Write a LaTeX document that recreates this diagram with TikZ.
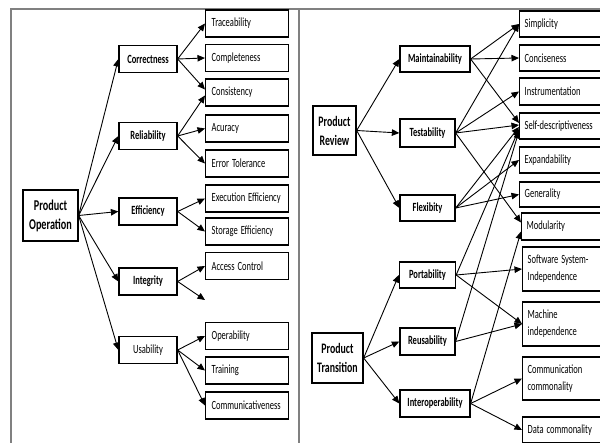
\documentclass[tikz,border=0pt]{standalone}
\usepackage{fontspec}
\setmainfont[FakeStretch=0.68]{Carlito}
\usetikzlibrary{arrows.meta}
\newcommand{\wsp}{\hspace{3pt}}
\begin{document}
\begin{tikzpicture}[x=1pt,y=-1pt,
  box/.style={draw=black, line width=1.3pt, inner sep=0pt, align=center, minimum width=58pt, minimum height=27pt, font=\fontsize{12.5}{15}\selectfont},
  mbox/.style={box, font=\fontsize{12.5}{15}\selectfont\bfseries},
  pbox/.style={box, font=\fontsize{15}{19}\selectfont\bfseries},
  lbox/.style={draw=black, line width=1.3pt, anchor=west, inner xsep=6pt, inner ysep=0pt, text width=71pt, align=left, minimum height=27pt, font=\fontsize{12.5}{17}\selectfont},
  rbox/.style={lbox, text width=88pt, inner xsep=5pt},
  arr/.style={line width=0.9pt, -{Triangle[length=7.5pt,width=6.5pt]}},
  frame/.style={draw=gray, line width=1.5pt}]
\useasboundingbox (0,0) rectangle (600,443);
\clip (0,0) rectangle (600,443);
\fill[white] (0,0) rectangle (600,443);
% frame
\draw[frame] (11,443) -- (11,9) -- (600,9);
\draw[frame] (299,9) -- (299,443);

% ---------- left half ----------
\node[pbox, minimum width=55pt, minimum height=51pt] (po) at (50.5,215.5) {Product\\Operation};
\node[mbox] (corr) at (148,59) {Correctness};
\node[mbox] (rel) at (148,136) {Reliability};
\node[mbox] (eff) at (148,211.5) {Efficiency};
\node[mbox] (integ) at (148,281.5) {Integrity};
\node[box] (usab) at (148,350) {Usability};

\node[lbox] (trace) at (205,23.5) {Traceability};
\node[lbox] (compl) at (205,58) {Completeness};
\node[lbox] (cons) at (205,92.5) {Consistency};
\node[lbox] (acur) at (205,128.5) {Acuracy};
\node[lbox] (errt) at (205,163.5) {Error\wsp Tolerance};
\node[lbox] (exec) at (205,198.5) {Execution\wsp Efficiency};
\node[lbox] (stor) at (205,231.5) {Storage\wsp Efficiency};
\node[lbox] (acc) at (205,266) {Access\wsp Control};
\coordinate (intx) at (205,300);
\node[lbox] (oper) at (205,336) {Operability};
\node[lbox] (train) at (205,370.5) {Training};
\node[lbox] (comm) at (205,405.5) {Communicativeness};

\foreach \t in {corr,rel,eff,integ,usab} \draw[arr] (po.east) -- (\t.west);
\draw[arr] (corr.east) -- (trace.west);
\draw[arr] (corr.east) -- (compl.west);
\draw[arr] (corr.east) -- ([yshift=3pt]cons.west);
\draw[arr] (rel.east) -- ([yshift=-3pt]cons.west);
\draw[arr] (rel.east) -- (acur.west);
\draw[arr] (rel.east) -- (errt.west);
\draw[arr] (eff.east) -- (exec.west);
\draw[arr] (eff.east) -- (stor.west);
\draw[arr] (integ.east) -- (acc.west);
\draw[arr] (integ.east) -- (intx);
\draw[arr] (usab.east) -- (oper.west);
\draw[arr] (usab.east) -- (train.west);
\draw[arr] (usab.east) -- (comm.west);

% ---------- right half ----------
\node[pbox, minimum width=43pt, minimum height=49pt, font=\fontsize{14.5}{19}\selectfont\bfseries] (prev) at (334.5,130.5) {Product\\Review};
\node[pbox, minimum width=51pt, minimum height=50pt, font=\fontsize{14.5}{19}\selectfont\bfseries] (ptrans) at (337.5,358) {Product\\Transition};

\node[mbox, minimum width=70pt, minimum height=26pt] (maint) at (435,59) {Maintainability};
\node[mbox, minimum width=55pt, minimum height=28pt] (test) at (427.5,133) {Testability};
\node[mbox, minimum width=55pt, minimum height=26pt] (flex) at (427.5,208) {Flexibity};
\node[mbox, minimum width=56pt, minimum height=26pt] (port) at (427.5,275) {Portability};
\node[mbox, minimum width=55pt, minimum height=27pt] (reus) at (427.5,341.5) {Reusability};
\node[mbox, minimum width=70pt, minimum height=27pt] (inter) at (435,403.5) {Interoperability};

\node[rbox, minimum height=26pt] (simp) at (519,24) {Simplicity};
\node[rbox, minimum height=26pt] (conc) at (519,58) {Conciseness};
\node[rbox, minimum height=27pt] (instr) at (519,91.5) {Instrumentation};
\node[rbox, minimum height=26pt] (selfd) at (519,126) {Self-descriptiveness};
\node[rbox, minimum height=26pt] (expa) at (519,160) {Expandability};
\node[rbox, minimum height=25pt] (gene) at (519,194.5) {Generality};
\node[rbox, minimum height=27pt] (modu) at (521,226.5) {Modularity};
\node[rbox, minimum height=44pt] (soft) at (522,269) {Software\wsp System-\\Independence};
\node[rbox, minimum height=44pt] (mach) at (522,324) {Machine\\independence};
\node[rbox, minimum height=43pt] (commc) at (522,378.5) {Communication\\commonality};
\node[rbox, minimum height=26pt] (data) at (522,430) {Data\wsp commonality};

\foreach \t in {maint,test,flex} \draw[arr] (prev.east) -- (\t.west);
\foreach \t in {port,reus,inter} \draw[arr] (ptrans.east) -- (\t.west);

\draw[arr] (maint.east) -- (simp.west);
\draw[arr] (maint.east) -- (conc.west);
\draw[arr] (maint.east) -- ([yshift=3pt]selfd.west);
\draw[arr] (test.east) -- (simp.west);
\draw[arr] (test.east) -- (instr.west);
\draw[arr] (test.east) -- ([yshift=1pt]selfd.west);
\draw[arr] (test.east) -- ([yshift=4pt]modu.west);
\draw[arr] (flex.east) -- ([yshift=-1pt]selfd.west);
\draw[arr] (flex.east) -- (expa.west);
\draw[arr] (flex.east) -- (gene.west);
\draw[arr] (port.east) -- ([yshift=-3pt]selfd.west);
\draw[arr] (port.east) -- (soft.west);
\draw[arr] (port.east) -- (mach.west);
\draw[arr] (reus.east) -- ([yshift=-5pt]selfd.west);
\draw[arr] (reus.east) -- (mach.west);
\draw[arr] (inter.east) -- ([yshift=-5pt]modu.west);
\draw[arr] (inter.east) -- (commc.west);
\draw[arr] (inter.east) -- (data.west);
\end{tikzpicture}
\end{document}
